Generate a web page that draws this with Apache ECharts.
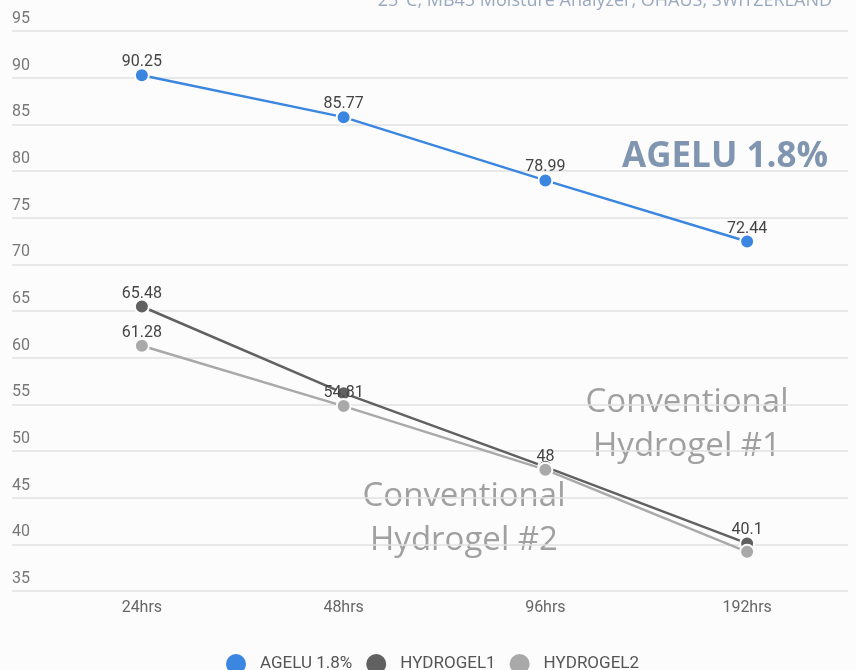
<!DOCTYPE html>
<html>
<head>
<meta charset="utf-8">
<script src="https://cdn.jsdelivr.net/npm/echarts@6/dist/echarts.min.js"></script>
<style>
    html, body { margin: 0; padding: 0; background: #fcfcfc; }
    #chart { width: 856px; height: 670px; }
</style>
</head>
<body>
<div id="chart"></div>
<script>
    // 数据
    var categories = ['24hrs', '48hrs', '96hrs', '192hrs'];
    var seriesNames = ['AGELU 1.8%', 'HYDROGEL1', 'HYDROGEL2'];
    var agelu = [90.25, 85.77, 78.99, 72.44];
    var hydrogel1 = [65.48, 56.2, 48.3, 40.1];
    var hydrogel2 = [61.28, 54.81, 48, 39.2];
    // 哪些点显示数值标签
    var agelLabels = [true, true, true, true];
    var hydro1Labels = [true, false, false, true];
    var hydro2Labels = [true, true, true, false];
    var yTicks = {min: 35, max: 95, step: 5};

    var colors = ['#3b86e0', '#616161', '#a9a9a9'];

    function points(values, flags) {
        return values.map(function (v, i) {
            return {value: v, label: {show: flags[i]}};
        });
    }

    function line(name, values, flags, color) {
        return {
            name: name,
            type: 'line',
            xAxisIndex: 0,
            yAxisIndex: 0,
            data: points(values, flags),
            symbol: 'circle',
            symbolSize: 14,
            lineStyle: {color: color, width: 2.5},
            itemStyle: {color: color, borderColor: '#fcfcfc', borderWidth: 2},
            label: {
                position: 'top',
                distance: -3,
                color: '#444',
                fontSize: 16,
                fontFamily: 'Roboto'
            },
            emphasis: {disabled: true}
        };
    }

    var chart = echarts.init(document.getElementById('chart'));
    var option = {
        backgroundColor: '#fcfcfc',
        animation: false,
        grid: [
            {left: 41, right: 8, top: 31, bottom: 79},   // 数据
            {left: 12, right: 8, top: 31, bottom: 79}    // 网格线和刻度
        ],
        xAxis: [
            {
                type: 'category',
                gridIndex: 0,
                data: categories,
                boundaryGap: true,
                axisLine: {show: false},
                axisTick: {show: false},
                axisLabel: {color: '#666', fontSize: 16, fontFamily: 'Roboto', margin: 9}
            },
            {type: 'value', gridIndex: 1, show: false}
        ],
        yAxis: [
            {type: 'value', gridIndex: 0, min: yTicks.min, max: yTicks.max, interval: yTicks.step, show: false},
            {
                type: 'value',
                gridIndex: 1,
                min: yTicks.min,
                max: yTicks.max,
                interval: yTicks.step,
                axisLine: {show: false},
                axisTick: {show: false},
                splitLine: {lineStyle: {color: '#e2e2e2', width: 1.5}},
                axisLabel: {
                    inside: true,
                    margin: 0,
                    align: 'left',
                    verticalAlign: 'bottom',
                    padding: [0, 0, 4, 0],
                    color: '#777',
                    fontSize: 16,
                    fontFamily: 'Roboto'
                }
            }
        ],
        legend: {
            left: 219,
            top: 647,
            icon: 'circle',
            itemWidth: 22,
            itemHeight: 22,
            itemGap: 12,
            data: seriesNames,
            textStyle: {color: '#555', fontSize: 17, fontFamily: 'Roboto', padding: [0, 0, 0, 8]}
        },
        series: [
            line(seriesNames[0], agelu, agelLabels, colors[0]),
            line(seriesNames[1], hydrogel1, hydro1Labels, colors[1]),
            line(seriesNames[2], hydrogel2, hydro2Labels, colors[2])
        ],
        graphic: [
            {
                type: 'text', right: 24, top: -8,
                style: {text: '25°C, MB45 Moisture Analyzer, OHAUS, SWITZERLAND', fill: '#9aa9bf', fontSize: 18, fontFamily: 'Open Sans'}
            },
            {
                type: 'text', x: 725, y: 157,
                style: {text: 'AGELU 1.8%', fill: '#8096b0', fontSize: 35, fontWeight: 'bold', fontFamily: 'Open Sans',
                    align: 'center', verticalAlign: 'middle'}
            },
            {
                type: 'text', x: 687, y: 425,
                style: {text: 'Conventional\nHydrogel #1', fill: '#a0a0a0', fontSize: 33, lineHeight: 44,
                    align: 'center', verticalAlign: 'middle', fontFamily: 'Open Sans'}
            },
            {
                type: 'text', x: 464, y: 519,
                style: {text: 'Conventional\nHydrogel #2', fill: '#a0a0a0', fontSize: 33, lineHeight: 44,
                    align: 'center', verticalAlign: 'middle', fontFamily: 'Open Sans'}
            }
        ]
    };
    chart.setOption(option);
</script>
</body>
</html>
